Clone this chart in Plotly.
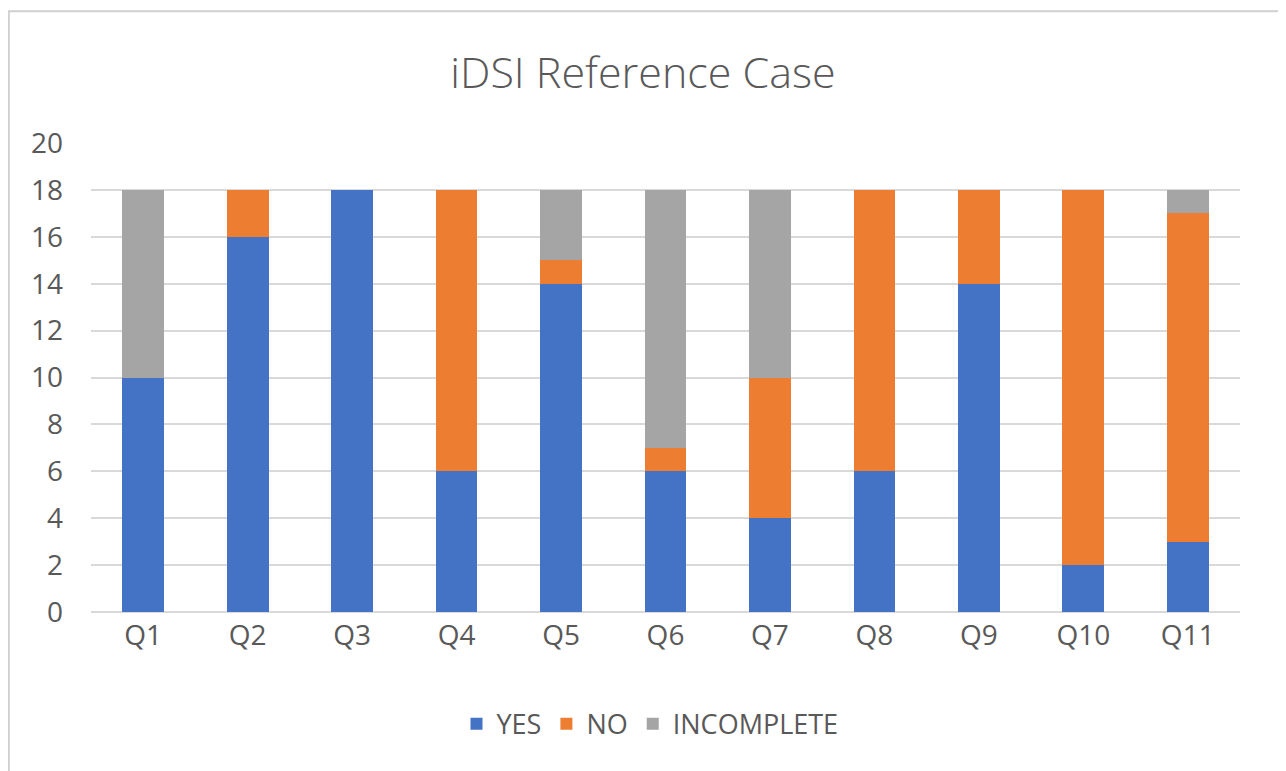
import plotly.graph_objects as go

categories = ["Q1", "Q2", "Q3", "Q4", "Q5", "Q6", "Q7", "Q8", "Q9", "Q10", "Q11"]
yes_vals = [10, 16, 18, 6, 14, 6, 4, 6, 14, 2, 3]
no_vals = [0, 2, 0, 12, 1, 1, 6, 12, 4, 16, 14]
incomplete_vals = [8, 0, 0, 0, 3, 11, 8, 0, 0, 0, 1]
y_ticks = [0, 2, 4, 6, 8, 10, 12, 14, 16, 18, 20]

font_family = "Open Sans, Noto Sans, DejaVu Sans, sans-serif"
text_color = "#595959"

fig = go.Figure()
fig.add_trace(go.Bar(name="YES", x=categories, y=yes_vals, marker_color="#4472C4", marker_line_width=0))
fig.add_trace(go.Bar(name="NO", x=categories, y=no_vals, marker_color="#ED7D31", marker_line_width=0))
fig.add_trace(go.Bar(name="INCOMPLETE", x=categories, y=incomplete_vals, marker_color="#A5A5A5", marker_line_width=0))

fig.update_layout(
    barmode="stack",
    bargap=0.6,
    width=1278,
    height=763,
    margin=dict(l=83, r=46, t=135, b=159),
    paper_bgcolor="white",
    plot_bgcolor="white",
    font=dict(family=font_family, color=text_color, size=27),
    title=dict(text="iDSI Reference Case", x=(643 - 8) / 1278, xanchor="center", y=1 - (73 - 8) / 763,
               yref="container", yanchor="middle",
               font=dict(size=43, color=text_color, weight=300)),
    legend=dict(orientation="h", x=(650 - 91) / 1149, xanchor="center", y=-0.239, yanchor="middle",
                font=dict(size=27, color=text_color), traceorder="normal", itemwidth=30,
                tracegroupgap=0),
    xaxis=dict(showgrid=False, showline=False, ticks="", ticklabelstandoff=4,
               tickfont=dict(size=28, color=text_color)),
    yaxis=dict(range=[0, 20], tickvals=y_ticks, showgrid=True, gridcolor="#d9d9d9", gridwidth=2,
               zeroline=True, zerolinecolor="#d9d9d9", zerolinewidth=2, showline=False,
               ticklabelstandoff=27, tickfont=dict(size=28, color=text_color)),
    shapes=[dict(type="rect", xref="paper", yref="paper", x0=-0.0715, x1=1.034, y0=-0.36, y1=1.281,
                 line=dict(color="#d0d0d0", width=2), fillcolor="rgba(0,0,0,0)", layer="below")],
)

fig.write_html("out.html")
